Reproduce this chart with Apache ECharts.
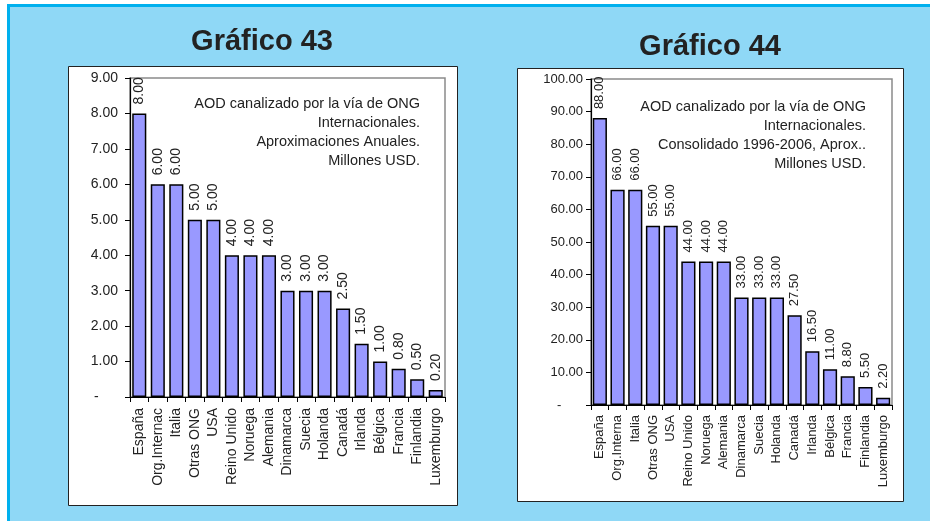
<!DOCTYPE html>
<html>
<head>
<meta charset="utf-8">
<script src="https://cdn.jsdelivr.net/npm/echarts@6/dist/echarts.min.js"></script>
<style>
  html, body { margin: 0; padding: 0; background: #ffffff; }
  #chart { width: 930px; height: 521px; }
</style>
</head>
<body>
<div id="chart"></div>
<script>
// ---- Data ----
const categories43 = ['España','Org.Internac','Italia','Otras ONG','USA','Reino Unido','Noruega','Alemania','Dinamarca','Suecia','Holanda','Canadá','Irlanda','Bélgica','Francia','Finlandia','Luxemburgo'];
const values43 = [8.00, 6.00, 6.00, 5.00, 5.00, 4.00, 4.00, 4.00, 3.00, 3.00, 3.00, 2.50, 1.50, 1.00, 0.80, 0.50, 0.20];
const categories44 = ['España','Org.Interna','Italia','Otras ONG','USA','Reino Unido','Noruega','Alemania','Dinamarca','Suecia','Holanda','Canadá','Irlanda','Bélgica','Francia','Finlandia','Luxemburgo'];
const values44 = [88.00, 66.00, 66.00, 55.00, 55.00, 44.00, 44.00, 44.00, 33.00, 33.00, 33.00, 27.50, 16.50, 11.00, 8.80, 5.50, 2.20];
const title43 = 'Gráfico 43';
const title44 = 'Gráfico 44';
const note43 = ['AOD canalizado por la vía de ONG', 'Internacionales.', 'Aproximaciones Anuales.', 'Millones USD.'];
const note44 = ['AOD canalizado por la vía de ONG', 'Internacionales.', 'Consolidado 1996-2006, Aprox..', 'Millones USD.'];

const FONT = "'Liberation Sans', Arial, Helvetica, sans-serif";
const TXT = '#222222';

const chart = echarts.init(document.getElementById('chart'), null, { renderer: 'canvas' });

function yAxisOpt(gridIndex, max, interval, fs, margin, zeroLabel) {
  return {
    type: 'value', gridIndex, min: 0, max, interval,
    axisLine: { show: true, lineStyle: { color: '#000', width: 1.2 } },
    axisTick: { show: true, inside: false, length: 5, lineStyle: { color: '#000' } },
    splitLine: { show: false },
    axisLabel: {
      fontFamily: FONT, fontSize: fs, color: TXT, margin,
      formatter: v => v === 0 ? zeroLabel : v.toFixed(2)
    }
  };
}
function xAxisOpt(gridIndex, data, fs, margin) {
  return {
    type: 'category', gridIndex, data,
    axisLine: { show: true, lineStyle: { color: '#000', width: 1.2 } },
    axisTick: { show: true, length: 5, lineStyle: { color: '#000' } },
    axisLabel: { interval: 0, rotate: 90, fontFamily: FONT, fontSize: fs, color: TXT, margin }
  };
}
function barSeries(idx, data, fs, gap) {
  return {
    type: 'bar', xAxisIndex: idx, yAxisIndex: idx, data,
    barCategoryGap: gap,
    itemStyle: { color: '#9999ff', borderColor: '#000', borderWidth: 1.5 },
    label: {
      show: true, position: 'top', rotate: 90, align: 'left', verticalAlign: 'middle',
      distance: 9, fontFamily: FONT, fontSize: fs, color: TXT,
      formatter: p => p.value.toFixed(2)
    },
    animation: false
  };
}

const option = {
  animation: false,
  backgroundColor: '#ffffff',
  graphic: [
    { type: 'rect', z: -100, shape: { x: 8.5, y: 5.5, width: 930, height: 530 },
      style: { fill: '#8fd8f6', stroke: '#00b0ee', lineWidth: 3 } },
    { type: 'rect', z: -90, shape: { x: 68.5, y: 66.5, width: 389, height: 439 },
      style: { fill: '#ffffff', stroke: '#222', lineWidth: 1 } },
    { type: 'rect', z: -90, shape: { x: 517.5, y: 68.5, width: 386, height: 433 },
      style: { fill: '#ffffff', stroke: '#222', lineWidth: 1 } },
    { type: 'text', z: 10, style: { x: 262, y: 42, text: title43, textAlign: 'center', textVerticalAlign: 'middle',
      fontFamily: FONT, fontSize: 29, fontWeight: 'bold', fill: TXT } },
    { type: 'text', z: 10, style: { x: 710, y: 47, text: title44, textAlign: 'center', textVerticalAlign: 'middle',
      fontFamily: FONT, fontSize: 29, fontWeight: 'bold', fill: TXT } },
    { type: 'text', z: 10, style: { x: 420, y: 94, text: note43.join('\n'), textAlign: 'right', textVerticalAlign: 'top',
      lineHeight: 19, fontFamily: FONT, fontSize: 14.5, fill: TXT } },
    { type: 'text', z: 10, style: { x: 866, y: 97, text: note44.join('\n'), textAlign: 'right', textVerticalAlign: 'top',
      lineHeight: 19, fontFamily: FONT, fontSize: 14.5, fill: TXT } }
  ],
  grid: [
    { left: 130, right: 485, top: 78, bottom: 124, show: true, borderColor: '#8a8a8a', borderWidth: 1.5, backgroundColor: 'transparent', containLabel: false },
    { left: 591, right: 38, top: 79, bottom: 116, show: true, borderColor: '#8a8a8a', borderWidth: 1.5, backgroundColor: 'transparent', containLabel: false }
  ],
  xAxis: [
    xAxisOpt(0, categories43, 14, 11),
    xAxisOpt(1, categories44, 13, 10)
  ],
  yAxis: [
    yAxisOpt(0, 9, 1, 14, 12, '-     '),
    yAxisOpt(1, 100, 10, 13, 8, '-      ')
  ],
  series: [
    barSeries(0, values43, 14, '24%'),
    barSeries(1, values44, 13, '20%')
  ]
};
chart.setOption(option);
</script>
</body>
</html>
